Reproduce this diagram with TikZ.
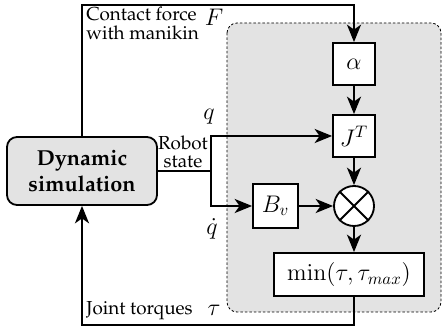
\documentclass[tikz,border=0pt]{standalone}
\usepackage[T1]{fontenc}
\renewcommand{\rmdefault}{ppl}
\usetikzlibrary{arrows.meta}
\begin{document}
\begin{tikzpicture}[x=0.6pt,y=-0.6pt,
  arr/.style={-{Stealth[length=10.5pt,width=8.5pt,inset=3pt]}},
  line/.style={line width=0.9pt},
  blk/.style={draw, line width=1.1pt, fill=white, inner sep=0pt},
  txt/.style={font=\fontsize{11.3}{11}\selectfont, inner sep=0pt},
  mth/.style={font=\fontsize{14.5}{16}\selectfont, inner sep=0pt}]
\useasboundingbox (0,0) rectangle (442,329);
% background region
\draw[dash pattern=on 1.5pt off 1.2pt, line width=0.5pt, fill=black!11, rounded corners=6pt] (227,23) rectangle (441,312);
% blocks
\node[draw, line width=1.1pt, fill=black!11, rounded corners=6pt, minimum width=90pt, minimum height=40.8pt, align=center,
  font=\fontsize{13}{16}\selectfont\bfseries] (dyn) at (82,171) {Dynamic\\simulation};
\node[blk, mth, minimum width=25.2pt, minimum height=25.2pt] (alpha) at (354,64) {$\alpha$};
\node[blk, mth, minimum width=25.2pt, minimum height=25.2pt] (jt) at (354,136) {$J^T$};
\node[blk, mth, minimum width=27pt, minimum height=26.4pt] (bv) at (275.5,206) {$B_v$};
\node[draw, circle, line width=1.1pt, fill=white, minimum size=24pt, inner sep=0pt] (ot) at (354,206) {};
\draw[line width=1.1pt] (ot.north east) -- (ot.south west) (ot.north west) -- (ot.south east);
\node[blk, mth, minimum width=90pt, minimum height=25.8pt] (mn) at (349,274.5) {$\min(\tau,\tau_{max})$};
% coordinates
\coordinate (ftop) at (82,5);
\coordinate (rs) at (211,171);
\coordinate (bot) at (82,325);
% connectors
\draw[line, arr] (dyn.north) -- (ftop) -| (alpha.north);
\draw[line, arr] (alpha) -- (jt);
\draw[line] (dyn.east) -- (rs);
\draw[line, arr] (rs) |- (jt.west);
\draw[line, arr] (rs) |- (bv.west);
\draw[line, arr] (jt) -- (ot);
\draw[line, arr] (bv) -- (ot);
\draw[line, arr] (ot) -- (ot |- mn.north);
\draw[line, arr] (ot |- mn.south) |- (bot) -- (dyn.south);
% labels
\node[txt, anchor=north west, align=left] (lcf) at (86,7) {Contact force\\with manikin};
\node[mth] (lF) at (214,17) {$F$};
\node[mth] (lq) at (209,117) {$q$};
\node[txt, align=center] (lrs) at (183,152) {Robot\\state};
\node[mth] (lqd) at (212,229) {$\dot q$};
\node[txt, anchor=west] (ljt) at (86,311) {Joint torques};
\node[mth] (ltau) at (214,310) {$\tau$};
\end{tikzpicture}
\end{document}
